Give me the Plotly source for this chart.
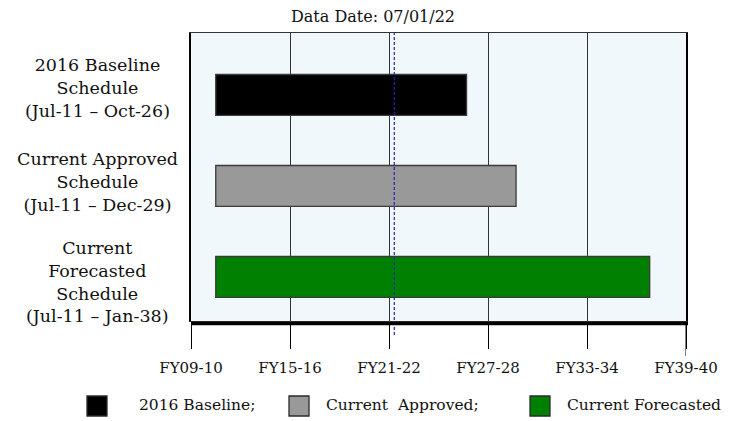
import plotly.graph_objects as go

# ---- data ----
schedule_labels = [
    "2016 Baseline<br>Schedule<br>(Jul-11 \u2013 Oct-26)",
    "Current Approved<br>Schedule<br>(Jul-11 \u2013 Dec-29)",
    "Current<br>Forecasted<br>Schedule<br>(Jul-11 \u2013 Jan-38)",
]
legend_names = ["2016 Baseline;", "Current\u00a0 Approved;", "Current Forecasted"]
start_year = [2011.5, 2011.5, 2011.5]
end_year = [2026.7, 2029.7, 2037.8]
data_date_year = 2022.32
tick_years = [2010, 2016, 2022, 2028, 2034, 2040]
tick_labels = ["FY09-10", "FY15-16", "FY21-22", "FY27-28", "FY33-34", "FY39-40"]
bar_colors = ["#000000", "#999999", "#008000"]

FONT = "DejaVu Serif"
W, H = 740, 421
L, R, T, B = 191, 54, 33, 100
PW, PH = W - L - R, H - T - B


def px_x(px):
    return (px - L) / PW


def px_y(py):
    return (H - B - py) / PH


rows = list(range(len(schedule_labels)))
fig = go.Figure()
fig.add_trace(go.Bar(
    y=rows,
    x=[e - s for s, e in zip(start_year, end_year)],
    base=start_year,
    orientation="h",
    width=0.45,
    marker=dict(color=bar_colors, line=dict(color="#3a3a3a", width=1.3)),
    showlegend=False,
    hoverinfo="skip",
))

shapes = []
# data date dashed line
shapes.append(dict(type="line", xref="x", yref="paper", x0=data_date_year, x1=data_date_year,
                   y0=px_y(335), y1=1, line=dict(color="#2424B8", width=1.2, dash="3px,2px"), layer="above"))
# thick bottom rule
shapes.append(dict(type="line", xref="paper", yref="paper", x0=0, x1=px_x(688),
                   y0=px_y(323.5), y1=px_y(323.5), line=dict(color="#000000", width=3.5), layer="above"))
# longer last tick
shapes.append(dict(type="line", xref="x", yref="paper", x0=tick_years[-1], x1=tick_years[-1],
                   y0=px_y(356), y1=px_y(325), line=dict(color="#000000", width=1)))

annotations = []
label_shift = [7, 4, -5]
for i, lab in enumerate(schedule_labels):
    annotations.append(dict(text=lab, xref="paper", yref="y", x=px_x(97), y=rows[i], yshift=label_shift[i],
                            xanchor="center", yanchor="middle", align="center", showarrow=False,
                            font=dict(family=FONT, size=17.5, color="#111111")))
annotations.append(dict(text="Data Date: 07/01/22", xref="paper", yref="paper", x=px_x(372.5), y=px_y(16),
                        xanchor="center", yanchor="middle", showarrow=False,
                        font=dict(family=FONT, size=16, color="#111111")))

# custom legend
sq_x = [87, 289, 530]
txt_x = [137, 324, 565]
for i, name in enumerate(legend_names):
    shapes.append(dict(type="rect", xref="paper", yref="paper",
                       x0=px_x(sq_x[i]), x1=px_x(sq_x[i] + 20), y0=px_y(416), y1=px_y(396),
                       fillcolor=bar_colors[i], line=dict(color="#2a2a2a", width=1.3)))
    annotations.append(dict(text=name, xref="paper", yref="paper", x=px_x(txt_x[i]), y=px_y(405),
                            xanchor="left", yanchor="middle", showarrow=False,
                            font=dict(family=FONT, size=15.5, color="#111111")))

fig.update_layout(
    width=W, height=H,
    margin=dict(l=L, r=R, t=T, b=B, pad=0),
    paper_bgcolor="white",
    plot_bgcolor="#F0F8FB",
    shapes=shapes,
    annotations=annotations,
    showlegend=False,
    xaxis=dict(range=[tick_years[0], tick_years[-1]], tickvals=tick_years, ticktext=tick_labels,
               showgrid=True, gridcolor="#333333", gridwidth=1, zeroline=False,
               showline=True, linecolor="#333333", linewidth=1, mirror=True,
               ticks="outside", ticklen=27, tickcolor="#000000", tickwidth=1,
               ticklabelstandoff=6,
               tickfont=dict(family=FONT, size=15, color="#111111"), fixedrange=True),
    yaxis=dict(range=[2.484, -0.681], showticklabels=False, showgrid=False, zeroline=False,
               showline=True, linecolor="#000000", linewidth=2, mirror=True, ticks="", fixedrange=True),
)

fig.write_html("out.html", post_script="document.body.style.margin='0';document.body.style.padding='0';",
               config={"displayModeBar": False})
